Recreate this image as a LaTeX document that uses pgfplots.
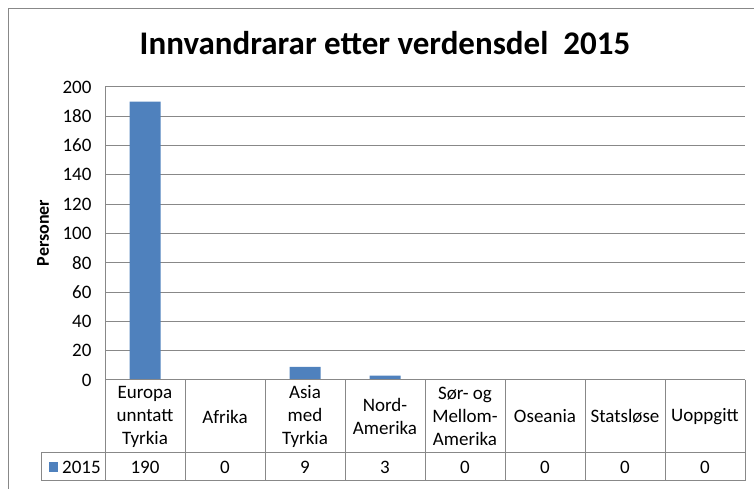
\documentclass[border=0pt]{standalone}
\usepackage{fontspec}
\setmainfont{Carlito}
\usepackage{pgfplots}
\pgfplotsset{compat=1.18}
\definecolor{barblue}{HTML}{4F81BD}
\definecolor{gridgray}{HTML}{888888}
\begin{document}
\begin{tikzpicture}
\useasboundingbox (0pt,0pt) rectangle (754pt,489pt);
\draw[gridgray, line width=1pt] (8pt,0pt) -- (8pt,480pt) -- (754pt,480pt);
\node[font=\fontsize{33}{40}\selectfont\bfseries, anchor=base] at (385pt,434pt) {Innvandrarar etter verdensdel\ \ 2015};
\node[font=\fontsize{18}{21}\selectfont\bfseries, rotate=90] at (43pt,256pt) {Personer};
\begin{axis}[
  at={(105pt,109pt)}, anchor=south west,
  scale only axis, width=640pt, height=293pt,
  xmin=-0.5, xmax=7.5, ymin=0, ymax=200,
  ytick={0,20,40,60,80,100,120,140,160,180,200},
  yticklabels={0,20,40,60,80,100,120,140,160,180,200},
  xtick={0,...,7},
  xticklabels={Europa\\unntatt\\Tyrkia, Afrika, Asia\\med\\Tyrkia, Nord-\\Amerika, Sør- og\\Mellom-\\Amerika, Oseania, Statsløse, Uoppgitt},
  xticklabel style={anchor=center, yshift=-36.5pt, align=center, font=\fontsize{19}{23}\selectfont},
  yticklabel style={font=\fontsize{19}{22}\selectfont, xshift=-10pt},
  /pgf/number format/assume math mode=true,
  major tick length=0pt,
  ymajorgrids, grid style={gridgray, line width=1pt},
  axis lines*=left,
  axis line style={gridgray, line width=1pt},
  clip=false,
]
\addplot[ybar, bar width=31pt, fill=barblue, draw=none] coordinates {(0,190) (1,0) (2,9) (3,3) (4,0) (5,0) (6,0) (7,0)};
\node[font=\fontsize{19}{22}\selectfont, yshift=-87pt] at (axis cs:0,0) {190};
\node[font=\fontsize{19}{22}\selectfont, yshift=-87pt] at (axis cs:1,0) {0};
\node[font=\fontsize{19}{22}\selectfont, yshift=-87pt] at (axis cs:2,0) {9};
\node[font=\fontsize{19}{22}\selectfont, yshift=-87pt] at (axis cs:3,0) {3};
\node[font=\fontsize{19}{22}\selectfont, yshift=-87pt] at (axis cs:4,0) {0};
\node[font=\fontsize{19}{22}\selectfont, yshift=-87pt] at (axis cs:5,0) {0};
\node[font=\fontsize{19}{22}\selectfont, yshift=-87pt] at (axis cs:6,0) {0};
\node[font=\fontsize{19}{22}\selectfont, yshift=-87pt] at (axis cs:7,0) {0};
\end{axis}
\begin{scope}[gridgray, line width=1pt]
\foreach \k in {0,...,8} {\draw ({(105+80*\k)*1pt},109pt) -- ({(105+80*\k)*1pt},8pt);}
\draw (41pt,36pt) -- (745pt,36pt);
\draw (41pt,8pt) -- (745pt,8pt);
\draw (41pt,36pt) -- (41pt,8pt);
\draw (105pt,109pt) -- (745pt,109pt);
\end{scope}
\fill[barblue] (49pt,17pt) rectangle (58pt,27pt);
\node[font=\fontsize{19}{22}\selectfont, anchor=west, inner sep=0pt] at (62pt,22pt) {2015};
\end{tikzpicture}
\end{document}
